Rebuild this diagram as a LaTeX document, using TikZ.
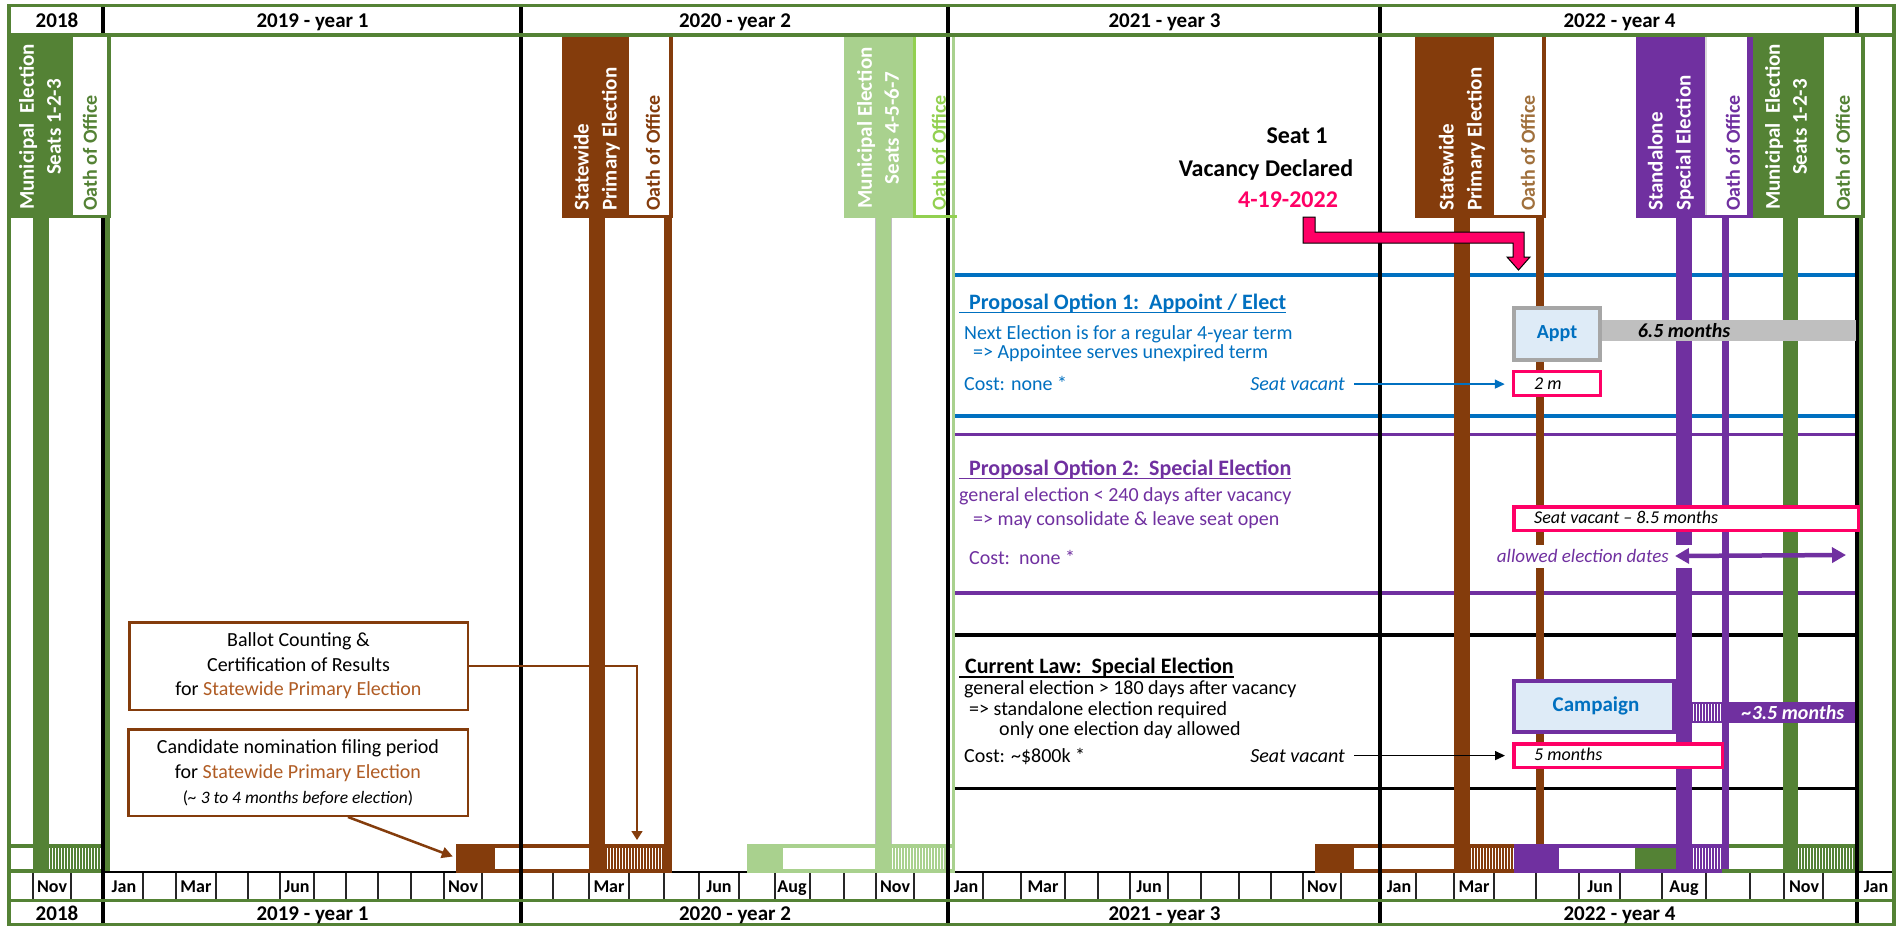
\documentclass[tikz,border=0pt]{standalone}
\usepackage{fontspec}
\setmainfont{Carlito}
\usetikzlibrary{patterns.meta,arrows.meta}
\definecolor{dgreen}{HTML}{548235}
\definecolor{brn}{HTML}{843C0C}
\definecolor{tanb}{HTML}{A0703C}
\definecolor{tbrn}{HTML}{B05C24}
\definecolor{lgreen}{HTML}{A9D18E}
\definecolor{bgreen}{HTML}{92D050}
\definecolor{purp}{HTML}{7030A0}
\definecolor{blu}{HTML}{0070C0}
\definecolor{pnk}{HTML}{FF0066}
\definecolor{gry}{HTML}{BFBFBF}
\definecolor{dgry}{HTML}{A6A6A6}
\definecolor{lgry}{HTML}{D9D9D9}
\definecolor{lblue}{HTML}{DEEBF7}
\newcommand{\fsz}[2]{\fontsize{#1}{#2}\selectfont}
\tikzset{
  hdr/.style={font=\fsz{21}{25}\bfseries, inner sep=0, anchor=base},
  mon/.style={font=\fsz{18}{21}\bfseries, inner sep=0, anchor=base},
  txt/.style={font=\fsz{20}{24}, inner sep=0, anchor=base west},
  hd/.style={font=\fsz{22}{26}\bfseries, inner sep=0, anchor=base west},
  rotl/.style={rotate=90, inner sep=0, font=\fsz{21}{28}\bfseries, align=left, anchor=west},
  rotc/.style={rotate=90, inner sep=0, font=\fsz{21}{27}\bfseries, align=center},
  oath/.style={rotate=90, inner sep=0, font=\fsz{20}{24}\bfseries, anchor=west},
  hatch/.style={pattern={Lines[angle=90,distance=3pt,line width=1.1pt]}},
  pinkbox/.style={draw=pnk, line width=3.5, fill=white, inner sep=0},
  itx/.style={font=\fsz{18}{22}\itshape, inner sep=0, anchor=base west},
  yl/.style={line width=4, black},
  tl/.style={line width=3.5},
}
\begin{document}
\begin{tikzpicture}[x=1pt,y=-1pt]
\useasboundingbox (0,0) rectangle (1902,926);
\fill[white] (0,0) rectangle (1902,926);

% section lines
\draw[blu, line width=3.5] (955,275) -- (1857,275);
\draw[blu, line width=3.5] (955,416) -- (1857,416);
\draw[purp, line width=3.5] (955,434.5) -- (1857,434.5);
\draw[purp, line width=3.5] (955,593) -- (1857,593);
\draw[black, line width=3.5] (955,635) -- (1857,635);
\draw[black, line width=3.5] (955,788.5) -- (1857,788.5);

% year lines
\foreach \x in {103,520.5,947.5,1380,1857} \draw[yl] (\x,5) -- (\x,926);

% ---- 2018 municipal
\fill[dgreen] (7,37) rectangle (73,218);
\fill[white] (73,37) rectangle (107,215);
\fill[dgreen] (107,37) rectangle (111,218);
\fill[dgreen] (73,215) rectangle (111,218);
\fill[dgreen] (33,218) rectangle (49,871);
\fill[dgreen] (105,215) rectangle (110,871);
\node[rotc, white] (m18) at (40,127) {Municipal\ \ Election\\Seats 1-2-3};
\node[oath, dgreen] (o18) at (90,211) {Oath of Office};

% ---- 2020 statewide primary
\fill[brn] (562,37) rectangle (629,218);
\fill[white] (629,37) rectangle (669,215);
\fill[brn] (669,33) rectangle (673,218);
\fill[brn] (629,215) rectangle (673,218);
\fill[brn] (589,218) rectangle (605,871);
\fill[brn] (664,218) rectangle (672,871);
\node[rotl, white] (sp20) at (597,211) {Statewide\\Primary Election};
\node[oath, brn] (o20a) at (653,211) {Oath of Office};

% ---- 2020 municipal 4-5-6-7
\fill[lgreen] (844,37) rectangle (913,218);
\fill[white] (913,37) rectangle (946,215);
\fill[bgreen] (913,37) rectangle (916,218);
\fill[bgreen] (913,215) rectangle (957,218);
\fill[lgreen] (875,218) rectangle (892,871);
\draw[gry, line width=1.5] (875.5,218) -- (875.5,846) (891.5,218) -- (891.5,846);
\fill[lgreen] (952,37) rectangle (955,871);
\fill[bgreen] (952,215) rectangle (957,218);
\node[rotc, white] (m20) at (878,128) {Municipal Election\\Seats 4-5-6-7};
\node[oath, bgreen] (o20b) at (939,211) {Oath of Office};

% ---- 2022 statewide primary
\fill[brn] (1415,37) rectangle (1494,218);
\fill[white] (1494,37) rectangle (1542,215);
\fill[brn] (1542,33) rectangle (1546,218);
\fill[brn] (1494,215) rectangle (1546,218);
\fill[brn] (1454,218) rectangle (1470,871);
\fill[brn] (1536,218) rectangle (1544,871);
\node[rotl, white] (sp22) at (1462,211) {Statewide\\Primary Election};
\node[oath, tanb] (o22a) at (1528,211) {Oath of Office};

% ---- 2022 standalone special
\fill[purp] (1636,37) rectangle (1705,218);
\fill[white] (1705,37) rectangle (1747,215);
\fill[lgry] (1705,37) rectangle (1707,215);
\fill[purp] (1747,33) rectangle (1753,218);
\fill[purp] (1705,215) rectangle (1753,218);
\fill[purp] (1676,218) rectangle (1692,871);
\fill[purp] (1722,218) rectangle (1729,871);
\node[rotl, white] (se22) at (1671,211) {Standalone\\Special Election};
\node[oath, purp] (o22b) at (1733,211) {Oath of Office};

% ---- 2022 municipal 1-2-3
\fill[dgreen] (1753,37) rectangle (1824,218);
\fill[white] (1824,37) rectangle (1861,215);
\fill[dgreen] (1861,37) rectangle (1865,218);
\fill[dgreen] (1824,215) rectangle (1865,218);
\fill[dgreen] (1783,218) rectangle (1798,871);
\fill[dgreen] (1859,215) rectangle (1863,871);
\node[rotc, white] (m22) at (1786,127) {Municipal\ \ Election\\Seats 1-2-3};
\node[oath, dgreen] (o22c) at (1843,211) {Oath of Office};

% ---- vacancy
\node[font=\fsz{24}{28}\bfseries, anchor=base, inner sep=0] (seat1) at (1297,143) {Seat 1};
\node[font=\fsz{24}{28}\bfseries, anchor=base, inner sep=0] (vacd) at (1266,176) {Vacancy Declared};
\node[font=\fsz{24}{28}\bfseries, anchor=base, inner sep=0, text=pnk] (vdate) at (1288,207) {4-19-2022};
\fill[pnk, draw=black, line width=1] (1303,217) -- (1315,217) -- (1315,232) -- (1524,232) -- (1524,257) -- (1530,257) -- (1518.5,270) -- (1507,257) -- (1513,257) -- (1513,243) -- (1303,243) -- cycle;

% ---- option 1
\node[hd, text=blu] (op1) at (969,309.5) {Proposal Option 1:\ \ Appoint / Elect};
\draw[blu, line width=1.6] (959,312.5) -- ([yshift=-3pt]op1.base east);
\node[txt, text=blu] (n1a) at (964,339) {Next Election is for a regular 4-year term};
\node[txt, text=blu] (n1b) at (973,358.5) {=> Appointee serves unexpired term};
\node[txt, text=blu] (n1c) at (964,390.5) {Cost: none *};
\node[txt, anchor=base east, font=\fsz{20}{24}\itshape, text=blu] (sv1) at (1345,390.5) {Seat vacant};
\fill[gry] (1602,320) rectangle (1856,341);
\node[font=\fsz{20}{24}\bfseries\itshape, anchor=base, inner sep=0] (m65) at (1684,337) {6.5 months};
\node[draw=dgry, line width=4, fill=lblue, minimum width=86, minimum height=52, inner sep=0, font=\fsz{20}{24}\bfseries, text=blu] (appt) at (1557,334) {Appt};
\node[pinkbox, minimum width=87, minimum height=24] (twom) at (1557,383.5) {};
\node[itx] (twomt) at (1534,389) {2 m};
\draw[blu, line width=1.5, -{Triangle[length=10,width=9]}] ([xshift=9pt]sv1.east) -- ([xshift=-7pt]sv1.east -| twom.west);

% ---- option 2
\node[hd, text=purp] (op2) at (969,475) {Proposal Option 2:\ \ Special Election};
\draw[purp, line width=1.6] (959,478.5) -- ([yshift=-3.5pt]op2.base east);
\node[txt, text=purp] (n2a) at (959,501) {general election < 240 days after vacancy};
\node[txt, text=purp] (n2b) at (973,525) {=> may consolidate \& leave seat open};
\node[txt, text=purp] (n2c) at (969,564) {Cost:\ \ none *};
\node[pinkbox, minimum width=344.5, minimum height=23.5] (v85) at (1686,518.5) {};
\node[itx] (v85t) at (1534,523) {Seat vacant -- 8.5 months};
\fill[white] (1488,545) rectangle (1697,568);
\node[font=\fsz{19}{23}\itshape, text=purp, anchor=base east, inner sep=0] (ald) at (1669,562) {allowed election dates};
\coordinate (adL) at (1675,556);
\coordinate (adR) at (1846,555);
\draw[purp, line width=4.5, {Triangle[length=14,width=15]}-{Triangle[length=14,width=15]}] (adL) -- (adR);

% ---- current law
\node[hd] (cl) at (965,673) {Current Law:\ \ Special Election};
\draw[line width=1.6] (959,677) -- ([yshift=-4pt]cl.base east);
\node[txt] (n3a) at (964,694) {general election > 180 days after vacancy};
\node[txt] (n3b) at (969,715) {=> standalone election required};
\node[txt] (n3c) at (999,735) {only one election day allowed};
\node[txt] (n3d) at (964,762) {Cost: \textasciitilde\$800k *};
\node[txt, anchor=base east, font=\fsz{20}{24}\itshape] (sv3) at (1345,762) {Seat vacant};
\node[draw=purp, line width=4, fill=lblue, minimum width=160, minimum height=51, inner sep=0] (camp) at (1594,706.5) {};
\node[font=\fsz{21}{25}\bfseries, text=blu, inner sep=0] (campt) at (1596,706) {Campaign};
\fill[purp] (1676,702) rectangle (1855,723);
\fill[white] (1692,704) rectangle (1722,721);
\fill[hatch, pattern color=purp] (1692,704) rectangle (1722,721);
\node[font=\fsz{20}{24}\bfseries\itshape, text=white, anchor=base, inner sep=0] (m35) at (1793,719) {\textasciitilde3.5 months};
\node[pinkbox, minimum width=208.5, minimum height=23.5] (fivem) at (1618,755.5) {};
\node[itx] (fivemt) at (1534,760) {5 months};
\draw[line width=1.5, -{Triangle[length=10,width=9]}] ([xshift=9pt]sv3.east) -- ([xshift=-7pt]sv3.east -| fivem.west);

% ---- left boxes
\node[draw=brn, line width=2.5, fill=white, minimum width=338.5, minimum height=87.5, align=center, font=\fsz{20}{24.5}, inner sep=0] (ballot) at (298.5,666) {Ballot Counting \&\\Certification of Results\\for \textcolor{tbrn}{Statewide Primary Election}};
\node[draw=brn, line width=2.5, fill=white, minimum width=339.5, minimum height=86.5, align=center, font=\fsz{20}{25}, inner sep=0] (cand) at (298,772.5) {Candidate nomination filing period\\for \textcolor{tbrn}{Statewide Primary Election}\\{\fsz{17.5}{21}(\textit{\textasciitilde{} 3 to 4 months before election})}};
\coordinate (ccount) at (637,840);
\draw[brn, line width=1.5, -{Triangle[length=9,width=11]}] (ballot.east) -| (ccount);

% ---- bottom timeline
\draw[line width=2] (103,872) -- (1893,872);
% 2018
\draw[dgreen, tl] (9,846) -- (102,846) (9,871) -- (102,871);
\fill[hatch, pattern color=dgreen] (49,848) rectangle (101,869);
% brown 2019-20
\draw[brn, tl] (456,846) -- (672,846) (456,871) -- (672,871);
\node[fill=brn, inner sep=0, minimum width=39, minimum height=29] (nom19) at (475.5,858.5) {};
\fill[hatch, pattern color=brn] (605,848) rectangle (664,869);
% light green 2020
\draw[lgreen, tl] (747,846) -- (955,846) (747,871) -- (955,871);
\node[fill=lgreen, inner sep=0, minimum width=36, minimum height=29] (nom20) at (765,858.5) {};
\fill[hatch, pattern color=lgreen] (892,848) rectangle (946,869);
% brown 2021-22
\draw[brn, tl] (1315,846) -- (1514,846) (1315,871) -- (1514,871);
\node[fill=brn, inner sep=0, minimum width=39, minimum height=29] (nom21) at (1334.5,858.5) {};
\fill[hatch, pattern color=brn] (1470,848) rectangle (1514,869);
% purple
\draw[purp, tl] (1514,846) -- (1726,846) (1514,871) -- (1722,871);
\node[fill=purp, inner sep=0, minimum width=45, minimum height=29] (nomp) at (1536.5,858.5) {};
\node[fill=dgreen, inner sep=0, minimum width=41, minimum height=21] (nomg) at (1655.5,858.5) {};
\fill[hatch, pattern color=purp] (1692,848) rectangle (1722,869);
% green 2022
\draw[dgreen, tl] (1729,846) -- (1858,846) (1722,871) -- (1858,871);
\fill[hatch, pattern color=dgreen] (1798,848) rectangle (1856,869);

\coordinate (candS) at (348,817);
\draw[brn, line width=2.5, -{Triangle[length=11,width=11]}] (candS) -- ([xshift=-3pt,yshift=2pt]nom19.west);

% month ticks
\foreach \x in {33,71,143,176,216,248,280,314,346,378,411,444,482,553,589,629,664,699,739,775,810,844,876,914,983,1021,1065,1098,1130,1168,1201,1239,1271,1303,1341,1416,1454,1494,1536,1579,1620,1662,1706,1750,1784,1823}
  \draw[black!85, line width=1.8] (\x,873) -- (\x,899);
\foreach \x/\m [count=\i] in {52/Nov,124/Jan,196/Mar,297/Jun,463/Nov,609/Mar,719/Jun,792/Aug,895/Nov,966/Jan,1043/Mar,1149/Jun,1322/Nov,1399/Jan,1474/Mar,1600/Jun,1684/Aug,1804/Nov,1876/Jan}
  \node[mon] (mo\i) at (\x,892) {\m};

% redraw year lines at bottom
\foreach \x in {103,520.5,947.5,1380,1857} \draw[yl] (\x,840) -- (\x,926);

% header & frame
\draw[dgreen, line width=3.5] (7,5.5) -- (1896,5.5);
\draw[dgreen, line width=4] (7,35) -- (1896,35);
\draw[dgreen, line width=3.5] (7,900.5) -- (1896,900.5);
\draw[dgreen, line width=3.5] (7,924.5) -- (1896,924.5);
\draw[dgreen, line width=4] (9,4) -- (9,926);
\draw[dgreen, line width=4] (1894,4) -- (1894,926);
\foreach \x in {103,520.5,947.5,1380,1857} \draw[yl] (\x,7) -- (\x,33);

\node[hdr] (t18) at (57,27.5) {2018};
\node[hdr] (t19) at (312.5,27.5) {2019 - year 1};
\node[hdr] (t20) at (735,27.5) {2020 - year 2};
\node[hdr] (t21) at (1164.5,27.5) {2021 - year 3};
\node[hdr] (t22) at (1619.5,27.5) {2022 - year 4};
\node[hdr] (b18) at (57,920) {2018};
\node[hdr] (b19) at (312.5,920) {2019 - year 1};
\node[hdr] (b20) at (735,920) {2020 - year 2};
\node[hdr] (b21) at (1164.5,920) {2021 - year 3};
\node[hdr] (b22) at (1619.5,920) {2022 - year 4};
\end{tikzpicture}
\end{document}
